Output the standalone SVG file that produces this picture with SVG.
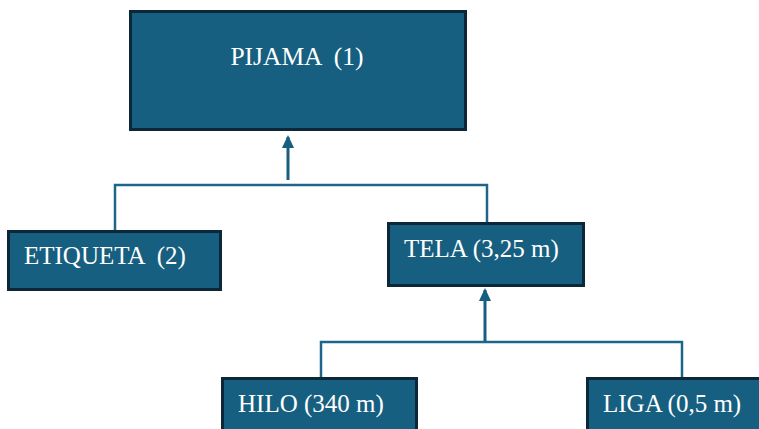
<svg xmlns="http://www.w3.org/2000/svg" width="759" height="429" viewBox="0 0 759 429">
  <style>
    .box { fill: #175f80; stroke: #0c2838; stroke-width: 3; }
    .lbl { font-family: "Liberation Serif", "Times New Roman", Times, serif; font-size: 25px; fill: #ffffff; }
    .wire { fill: none; stroke: #1d6689; stroke-width: 2.5; }
    .arrow { fill: none; stroke: #175f80; stroke-width: 3; }
  </style>
  <defs>
    <marker id="head" markerWidth="13" markerHeight="12" refX="11" refY="6" viewBox="0 0 13 12" markerUnits="userSpaceOnUse" orient="auto">
      <path d="M0,0 L13,6 L0,12 Z" fill="#175f80"/>
    </marker>
  </defs>
  <rect width="759" height="429" fill="#ffffff"/>

  <g id="connectors">
    <!-- PIJAMA branch -->
    <polyline class="wire" points="115,231 115,185 487,185 487,223"/>
    <line class="arrow" x1="288" y1="180" x2="288" y2="137" marker-end="url(#head)"/>
    <!-- TELA branch -->
    <polyline class="wire" points="321,378 321,342 682,342 682,378"/>
    <line class="arrow" x1="485" y1="341" x2="485" y2="290" marker-end="url(#head)"/>
  </g>

  <g id="pijama">
    <rect class="box" x="130.5" y="11.5" width="335" height="118"/>
    <text class="lbl" x="297" y="65" text-anchor="middle" style="font-size:25.5px" xml:space="preserve">PIJAMA  (1)</text>
  </g>

  <g id="etiqueta">
    <rect class="box" x="8.5" y="231.5" width="212" height="58"/>
    <text class="lbl" x="24" y="264" xml:space="preserve">ETIQUETA  (2)</text>
  </g>

  <g id="tela">
    <rect class="box" x="388.5" y="223.5" width="195" height="62"/>
    <text class="lbl" x="404" y="257">TELA (3,25 m)</text>
  </g>

  <g id="hilo">
    <rect class="box" x="222.5" y="378.5" width="194" height="60"/>
    <text class="lbl" x="238" y="412">HILO (340 m)</text>
  </g>

  <g id="liga">
    <rect class="box" x="587.5" y="378.5" width="180" height="60"/>
    <text class="lbl" x="603" y="412">LIGA (0,5 m)</text>
  </g>
</svg>
